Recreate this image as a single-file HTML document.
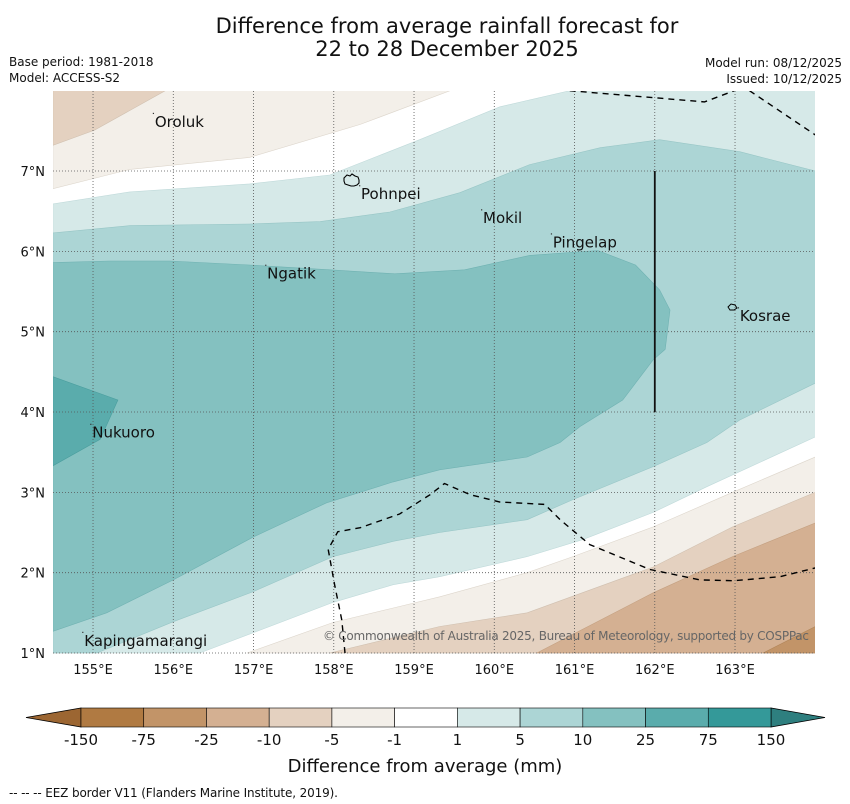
<!DOCTYPE html>
<html><head><meta charset="utf-8"><style>
body{margin:0;background:#fff;font-family:"DejaVu Sans","Liberation Sans",sans-serif;}
svg{display:block}
</style></head><body>
<svg id="svg" width="850" height="804" xmlns="http://www.w3.org/2000/svg">
<text x="447" y="33" font-size="21" text-anchor="middle" fill="#111">Difference from average rainfall forecast for</text>
<text x="447" y="56" font-size="21" text-anchor="middle" fill="#111">22 to 28 December 2025</text>
<text x="9" y="66" font-size="12" fill="#111">Base period: 1981-2018</text>
<text x="9" y="82" font-size="12" fill="#111">Model: ACCESS-S2</text>
<text x="842" y="67" font-size="12" text-anchor="end" fill="#111">Model run: 08/12/2025</text>
<text x="842" y="83" font-size="12" text-anchor="end" fill="#111">Issued: 10/12/2025</text>
<defs><clipPath id="mapclip"><rect x="53" y="91" width="762" height="563"/></clipPath></defs>
<g id="map" clip-path="url(#mapclip)"></g>
<g id="axes"></g>
<g id="cbar"></g>
<text x="425" y="772" font-size="18" text-anchor="middle" fill="#111">Difference from average (mm)</text>
<text x="9" y="797" font-size="12" fill="#111" textLength="329">--  --  -- EEZ border V11 (Flanders Marine Institute, 2019).</text>
</svg>
<script>
const NS="http://www.w3.org/2000/svg";
const lonTicks=[155,156,157,158,159,160,161,162,163];
const latTicks=[1,2,3,4,5,6,7];
const cbLevels=["-150","-75","-25","-10","-5","-1","1","5","10","25","75","150"];
const cbColors=["#b07a42","#c29468","#d4b092","#e4d1c0","#f3efe9","#ffffff","#d6e9e8","#acd5d5","#84c1c0","#5aacac","#349999"];
const neg1A=[[154.5,8],[159.45,8],[158.33,7.58],[156.95,7.17],[155.46,7.02],[154.5,6.78]];
const neg1B=[[156.92,1],[157.99,1.38],[158.74,1.56],[159.32,1.70],[160.41,2.0],[160.98,2.20],[161.98,2.57],[162.97,3.0],[164,3.44],[164,1]];
const neg5A=[[154.5,8],[155.90,8],[155.02,7.51],[154.5,7.32]];
const neg5B=[[157.95,1],[159.32,1.33],[160.41,1.50],[161.98,2.07],[162.97,2.57],[164,3.0],[164,1]];
const neg10=[[160.53,1],[161.98,1.75],[162.97,2.20],[164,2.62],[164,1]];
const neg25=[[163.35,1],[164,1.33],[164,1]];
const pos1=[[154.5,6.59],[155.46,6.74],[156.95,6.84],[157.95,6.95],[159.07,7.39],[160.07,7.80],[160.94,8],[164,8],[164,3.69],[162.65,3.07],[161.98,2.75],[161.10,2.41],[160.41,2.20],[159.32,1.95],[158.74,1.85],[157.99,1.63],[156.33,1],[154.5,1]];
const pos5=[[154.5,6.23],[155.46,6.32],[156.95,6.34],[157.83,6.37],[158.70,6.49],[159.57,6.73],[160.44,7.08],[161.32,7.29],[162.06,7.39],[163.06,7.24],[164,7.0],[164,4.36],[163.06,3.90],[162.65,3.62],[161.98,3.32],[160.98,2.91],[160.41,2.66],[159.32,2.50],[158.74,2.39],[157.99,2.20],[156.99,1.76],[156.0,1.39],[155.05,1],[154.5,1]];
const pos10=[[154.5,5.86],[155.21,5.88],[155.96,5.88],[156.95,5.83],[157.95,5.77],[158.76,5.72],[159.63,5.77],[160.44,5.95],[161.29,6.01],[161.76,5.83],[162.06,5.52],[162.19,5.27],[162.13,4.78],[161.98,4.65],[161.60,4.15],[161.07,3.82],[160.82,3.62],[160.41,3.44],[159.32,3.28],[158.74,3.13],[157.91,2.87],[156.99,2.44],[156.0,1.91],[155.17,1.50],[154.5,1.27]];
const pos25=[[154.5,4.44],[155.31,4.15],[155.09,3.66],[154.5,3.33]];
const eezTop1=[[160.94,8],[162.62,7.86],[162.99,8]];
const eezTop2=[[163.18,8],[164,7.45]];
const eezBottom=[[158.14,1],[158.10,1.41],[158.01,1.85],[157.93,2.29],[158.05,2.51],[158.33,2.56],[158.82,2.73],[159.20,2.97],[159.38,3.11],[159.70,2.97],[160.07,2.88],[160.63,2.85],[160.82,2.66],[161.19,2.35],[161.94,2.04],[162.56,1.91],[162.99,1.90],[163.56,1.95],[164,2.06]];
const solidLine=[[162,7],[162,4]];
const places=["Oroluk","Pohnpei","Mokil","Pingelap","Ngatik","Kosrae","Nukuoro","Kapingamarangi"];
const placeLon=[155.77,158.34,159.86,160.73,157.17,163.06,154.99,154.89];
const placeLat=[7.55,6.65,6.35,6.05,5.66,5.13,3.68,1.09];

const x=lon=>52.9+(lon-154.5)*80.25;
const y=lat=>653-(lat-1)*80.33;
const map=document.getElementById('map'),axes=document.getElementById('axes'),cb=document.getElementById('cbar');
function el(tag,attrs,parent){const e=document.createElementNS(NS,tag);for(const k in attrs)e.setAttribute(k,attrs[k]);parent.appendChild(e);return e;}
const pts=a=>a.map(p=>x(p[0]).toFixed(1)+','+y(p[1]).toFixed(1)).join(' ');
function poly(a,fill,stroke,name){const p=el('polygon',{points:pts(a),fill:fill,stroke:stroke,'stroke-width':0.6},map);

}
const bg=el('rect',{x:53,y:91,width:762,height:563,fill:'#fff'},map);


poly(neg1A,cbColors[4],'#ddd6cc','band-neg1-north');
poly(neg5A,cbColors[3],'#d0c0b0','band-neg5-north');
poly(neg1B,cbColors[4],'#ddd6cc','band-neg1-south');
poly(neg5B,cbColors[3],'#d0c0b0','band-neg5-south');
poly(neg10,cbColors[2],'#c4a080','band-neg10');
poly(neg25,cbColors[1],'#b08458','band-neg25');
poly(pos1,cbColors[6],'#c0dada','band-pos1');
poly(pos5,cbColors[7],'#98c6c6','band-pos5');
poly(pos10,cbColors[8],'#70b2b2','band-pos10');
poly(pos25,cbColors[9],'#4a9e9e','band-pos25');
lonTicks.forEach(v=>{const l=el('line',{x1:x(v),x2:x(v),y1:91,y2:654,stroke:'#555','stroke-width':0.8,'stroke-dasharray':'1,2'},map);


const t=el('text',{x:x(v),y:674,'font-size':13,'text-anchor':'middle',fill:'#111'},axes);t.textContent=v+'°E';

});
latTicks.forEach(v=>{const l=el('line',{x1:53,x2:815,y1:y(v),y2:y(v),stroke:'#555','stroke-width':0.8,'stroke-dasharray':'1,2'},map);


const t=el('text',{x:45,y:y(v)+5,'font-size':13,'text-anchor':'end',fill:'#111'},axes);t.textContent=v+'°N';

});
[eezTop1,eezTop2,eezBottom].forEach(a=>{const p=el('polyline',{points:pts(a),fill:'none',stroke:'#000','stroke-width':1.4,'stroke-dasharray':'6,5'},map);

});
const sl=el('polyline',{points:pts(solidLine),fill:'none',stroke:'#111','stroke-width':1.8},map);


const pn=el('path',{d:'M344,178 l3,-3 l3,1 l2,-2 l3,2 l3,1 l1,3 l0,3 l-2,2 l-3,1 l-3,0 l-3,-1 l-3,-1 l-1,-3 z',fill:'none',stroke:'#000','stroke-width':1.1},map);


const ks=el('path',{d:'M728,307 l3,-3 l4,1 l2,3 l-3,2 l-4,0 z',fill:'none',stroke:'#000','stroke-width':1},map);


places.forEach((n,i)=>{const t=el('text',{x:x(placeLon[i]),y:y(placeLat[i]),'font-size':15,fill:'#111'},map);t.textContent=n;


const d=el('rect',{x:x(placeLon[i])-2,y:y(placeLat[i])-14,width:1.2,height:1.2,fill:'#333'},map);

});
const cp=el('text',{x:809,y:640,'font-size':12,'text-anchor':'end',fill:'#666',textLength:486},map);cp.textContent='© Commonwealth of Australia 2025, Bureau of Meteorology, supported by COSPPac';


const cx0=81,cx1=771,cy0=708,cy1=727,w=(cx1-cx0)/cbColors.length;
const la=el('polygon',{points:`${cx0},${cy0} ${cx0},${cy1} 26,${(cy0+cy1)/2}`,fill:'#9c6632',stroke:'#000','stroke-width':0.8},cb);


const ra=el('polygon',{points:`${cx1},${cy0} ${cx1},${cy1} 825,${(cy0+cy1)/2}`,fill:'#2e7f7f',stroke:'#000','stroke-width':0.8},cb);


cbColors.forEach((c,i)=>{const r=el('rect',{x:cx0+i*w,y:cy0,width:w,height:cy1-cy0,fill:c,stroke:'#000','stroke-width':0.6},cb);

});
cbLevels.forEach((v,i)=>{const t=el('text',{x:cx0+i*w,y:745,'font-size':15,'text-anchor':'middle',fill:'#111'},cb);t.textContent=v;

});
</script>
</body></html>
